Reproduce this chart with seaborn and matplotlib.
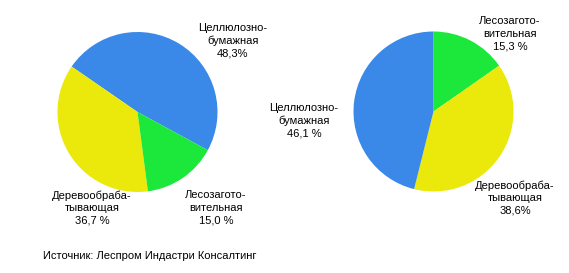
import matplotlib
matplotlib.use("Agg")
import matplotlib.pyplot as plt
import seaborn as sns

# Data
left_names = ["Целлюлозно-\nбумажная", "Деревообраба-\nтывающая", "Лесозагото-\nвительная"]
left_values = [48.3, 36.7, 15.0]
left_pct = ["48,3%", "36,7 %", "15,0 %"]

right_names = ["Лесозагото-\nвительная", "Деревообраба-\nтывающая", "Целлюлозно-\nбумажная"]
right_values = [15.3, 38.6, 46.1]
right_pct = ["15,3 %", "38,6%", "46,1 %"]

source = "Источник: Леспром Индастри Консалтинг"

BLUE, YELLOW, GREEN = "#3a88e8", "#ebe80c", "#1ce83c"

sns.set_theme(style="white")
plt.rcParams["font.family"] = ["Liberation Sans", "DejaVu Sans"]

W, H = 569, 273
fig = plt.figure(figsize=(W / 100, H / 100), dpi=100)
ax = fig.add_axes([0, 0, 1, 1])

# y axis is inverted (pixel-like coordinates), so angles are mirrored
ax.pie(left_values, colors=[BLUE, YELLOW, GREEN], startangle=28.5,
       counterclock=False, center=(137.5, 112), radius=80,
       wedgeprops=dict(linewidth=0))
ax.pie(right_values, colors=[GREEN, YELLOW, BLUE], startangle=-90,
       counterclock=True, center=(433.5, 111.5), radius=80,
       wedgeprops=dict(linewidth=0))
ax.set_xlim(0, W)
ax.set_ylim(H, 0)
ax.set_aspect("equal")
ax.axis("off")

fs = 8.0
left_pos = [(233, 41), (92, 208), (216, 208)]
right_pos = [(510, 34), (515, 198), (304, 121)]
for name, pct, (x, y) in zip(left_names, left_pct, left_pos):
    ax.text(x, y, name + "\n" + pct, ha="center", va="center", fontsize=fs,
            linespacing=1.32, color="black")
for name, pct, (x, y) in zip(right_names, right_pct, right_pos):
    ax.text(x, y, name + "\n" + pct, ha="center", va="center", fontsize=fs,
            linespacing=1.32, color="black")

ax.text(43, 256, source, ha="left", va="center", fontsize=fs, color="black")

fig.savefig("out.png", dpi=100, facecolor="white")
